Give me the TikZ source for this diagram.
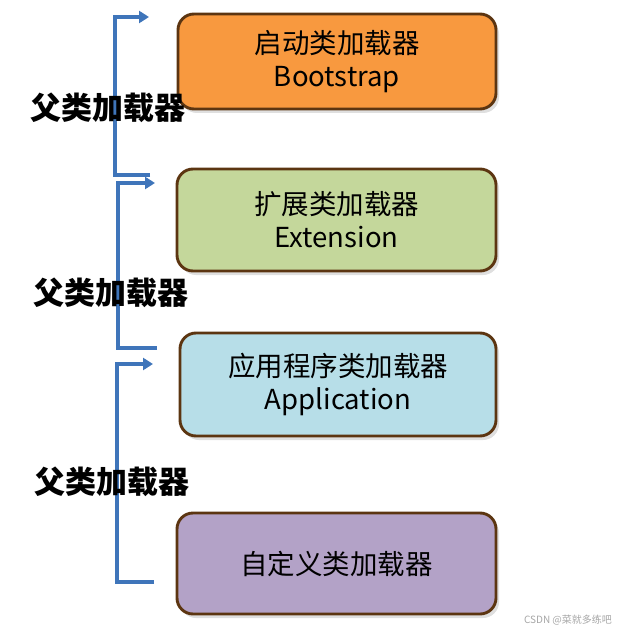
\documentclass[tikz,border=0pt]{standalone}
\usepackage{fontspec}
\setmainfont{Noto Sans CJK SC}
\usepackage{xcolor}
\usetikzlibrary{arrows.meta, shadows}

\definecolor{bootfill}{HTML}{F8993F}
\definecolor{extfill}{HTML}{C4D79B}
\definecolor{appfill}{HTML}{B7DEE8}
\definecolor{userfill}{HTML}{B3A2C7}
\definecolor{edge}{HTML}{5C3511}
\definecolor{bracketblue}{HTML}{3F75BA}

\tikzset{
  loader/.style={draw=edge, line width=2.9pt, rounded corners=16pt, align=center,
    font=\fontsize{27.5}{33}\selectfont, text=black,
    drop shadow={shadow xshift=3pt, shadow yshift=-4pt, opacity=0.25}},
  parent/.style={font=\fontsize{31}{31}\selectfont\bfseries, text=black},
  bracket/.style={draw=bracketblue, line width=3.6pt,
    -{Triangle[length=10pt,width=12pt]}}
}

\begin{document}
\begin{tikzpicture}[x=1pt, y=-1pt]
  \useasboundingbox (0,0) rectangle (625,631);
  % Loader boxes
  \node[loader, fill=bootfill, minimum width=318pt, minimum height=95pt] (boot) at (337,61.5)
    {启动类加载器\\Bootstrap};
  \node[loader, fill=extfill, minimum width=319pt, minimum height=102pt] (ext) at (336.5,220)
    {扩展类加载器\\Extension};
  \node[loader, fill=appfill, minimum width=316pt, minimum height=103pt] (app) at (338,384.5)
    {应用程序类加载器\\Application};
  \node[loader, fill=userfill, minimum width=319pt, minimum height=101pt] (user) at (336.5,563.5)
    {自定义类加载器};
  % Bracket end points
  \coordinate (b1top) at (149,17);
  \coordinate (b1bot) at (150,175);
  \coordinate (b2top) at (155,183);
  \coordinate (b2bot) at (157,348);
  \coordinate (b3top) at (153,364);
  \coordinate (b3bot) at (154,582);
  % Brackets
  \draw[bracket] (b1bot) -- ++(-35,0) |- (b1top);
  \draw[bracket] (b2bot) -- ++(-39,0) |- (b2top);
  \draw[bracket] (b3bot) -- ++(-37,0) |- (b3top);
  % Parent labels
  \node[parent] (p1) at (108,108) {父类加载器};
  \node[parent] (p2) at (111,293) {父类加载器};
  \node[parent] (p3) at (112,482) {父类加载器};
  % Watermark
  \node[font=\fontsize{10}{10}\selectfont, text=gray!70] (mark) at (568,620) {CSDN @菜就多练吧};
\end{tikzpicture}
\end{document}
